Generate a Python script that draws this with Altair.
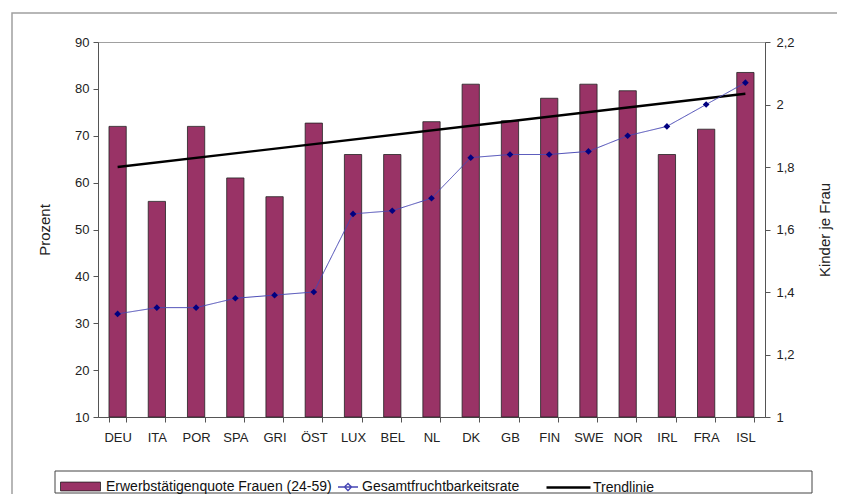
import altair as alt
import pandas as pd

laender = ["DEU", "ITA", "POR", "SPA", "GRI", "ÖST", "LUX", "BEL", "NL",
           "DK", "GB", "FIN", "SWE", "NOR", "IRL", "FRA", "ISL"]
quote = [72, 56, 72, 61, 57, 72.7, 66, 66, 73, 81, 73.2, 78, 81, 79.6, 66, 71.4, 83.5]
rate = [1.33, 1.35, 1.35, 1.38, 1.39, 1.40, 1.65, 1.66, 1.70, 1.83, 1.84, 1.84,
        1.85, 1.90, 1.93, 2.00, 2.07]
left_ticks = [10, 20, 30, 40, 50, 60, 70, 80, 90]
right_ticks = [1, 1.2, 1.4, 1.6, 1.8, 2, 2.2]

S1 = "Erwerbstätigenquote Frauen (24-59)"
S2 = "Gesamtfruchtbarkeitsrate"
S3 = "Trendlinie"

df = pd.DataFrame({"Land": laender, "idx": list(range(len(laender))),
                   "Quote": quote, "Rate": rate})

FONT = "Liberation Sans"
BAR_C = "#993366"
PT_C = "#000080"
LINE_C = "#4646b4"


def leg(x, y, size, shape, offset=5, sw=1):
    return alt.Legend(orient="none", legendX=x, legendY=y, title=None, padding=0,
                      symbolSize=size, symbolType=shape, labelOffset=offset,
                      labelFontSize=14, labelFont=FONT, labelColor="#111",
                      labelLimit=400, symbolOpacity=1, symbolStrokeWidth=sw)


x_enc = alt.X("Land:N", sort=laender,
              scale=alt.Scale(paddingInner=0.56, paddingOuter=0.28),
              axis=alt.Axis(title=None, labelAngle=0, tickBand="extent",
                            tickSize=5, labelPadding=9))

y_left = alt.Y("Quote:Q", scale=alt.Scale(domain=[10, 90], nice=False, zero=False),
               axis=alt.Axis(title="Prozent", values=left_ticks, tickSize=5,
                             labelPadding=4, titlePadding=22))

base = alt.Chart(df)

bars = base.transform_calculate(Serie=f"'{S1}'").mark_bar(
    stroke="#222", strokeWidth=0.8).encode(
    x=x_enc, y=y_left, y2=alt.datum(10),
    color=alt.Color("Serie:N", scale=alt.Scale(domain=[S1], range=[BAR_C]),
                    legend=leg(-38, 424, 1600, "M-1,-0.22H1V0.22H-1Z", 5, 0.8)))

trend = base.transform_regression("idx", "Quote", as_=["idx", "Quote"]).transform_lookup(
    lookup="idx", from_=alt.LookupData(df, "idx", ["Land"])).transform_calculate(
    Trend=f"'{S3}'").mark_line(strokeWidth=2.4).encode(
    x=alt.X("Land:N", sort=laender), y=alt.Y("Quote:Q"),
    color=alt.Color("Trend:N", scale=alt.Scale(domain=[S3], range=["#000000"]),
                    legend=leg(447, 422, 1936, "M-1,0H1", 1, 2.4)))

y_right = alt.Y("Rate:Q", scale=alt.Scale(domain=[1, 2.2], nice=False, zero=False),
                axis=alt.Axis(orient="right", title="Kinder je Frau", values=right_ticks,
                              tickSize=5, labelPadding=6, titlePadding=38, titleAngle=270,
                              labelExpr="replace(format(datum.value, '.1~f'), '.', ',')"))

fert_line = base.transform_calculate(Fert=f"'{S2}'").mark_line(
    color=LINE_C, strokeWidth=1).encode(
    x=alt.X("Land:N", sort=laender), y=y_right,
    strokeDash=alt.StrokeDash("Fert:N", scale=alt.Scale(domain=[S2], range=[[1, 0]]),
                              legend=leg(239, 434, 400,
                                         "M-1,0H1M-0.35,0L0,-0.35L0.35,0L0,0.35Z", 3, 1.4)))
fert_pts = base.mark_point(shape="diamond", filled=True, size=45, opacity=1,
                           color=PT_C).encode(
    x=alt.X("Land:N", sort=laender), y=alt.Y("Rate:Q"))

frame = alt.Chart(pd.DataFrame({"f": [0]})).mark_rect(
    fillOpacity=0, stroke="#a0a0a0", strokeWidth=1.5).encode(
    x=alt.value(-86), x2=alt.value(780), y=alt.value(-29), y2=alt.value(500))

legend_box = alt.Chart(pd.DataFrame({"f": [0]})).mark_rect(
    fill="white", stroke="#444", strokeWidth=1).encode(
    x=alt.value(-43), x2=alt.value(714), y=alt.value(429), y2=alt.value(451))

left = alt.layer(bars, trend).resolve_scale(color="independent")
right = alt.layer(fert_line, fert_pts)

chart = alt.layer(frame, legend_box,
                  alt.layer(left, right).resolve_scale(y="independent")).properties(
    width=667, height=375,
    autosize=alt.AutoSizeParams(type="none"),
    padding={"left": 90, "top": 34, "right": 72, "bottom": 77},
).configure_view(stroke="#a0a0a0", strokeWidth=1).configure_axis(
    domainColor="#555", tickColor="#555", labelColor="#222", labelFont=FONT,
    labelFontSize=13, titleFont=FONT, titleFontSize=15, titleFontWeight="normal",
    titleColor="#222", grid=False
)

chart.save("out.html", embed_options={"renderer": "svg", "actions": False})
